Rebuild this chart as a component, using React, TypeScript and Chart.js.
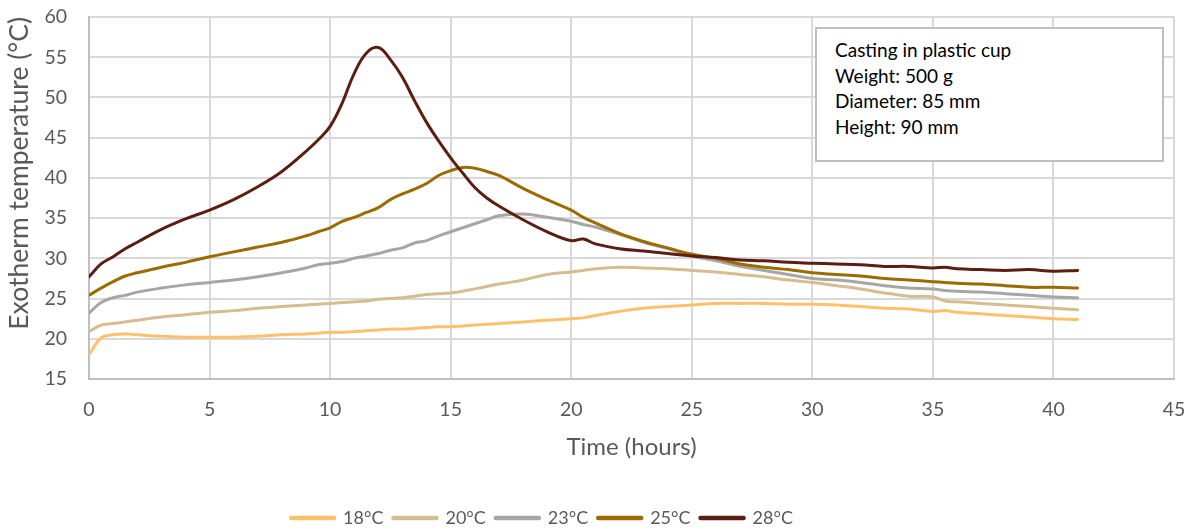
import React, { useEffect, useRef } from 'react';
import { Chart, registerables } from 'chart.js';

Chart.register(...registerables);

const times = [0, 0.5, 1, 1.5, 2, 3, 4, 5, 6, 7, 8, 9, 9.5, 10, 10.5, 11, 11.5, 12, 12.5, 13, 13.5, 14, 14.5, 15, 15.5, 16, 16.5, 17, 18, 19, 20, 20.5, 21, 22, 23, 24, 25, 26, 27, 28, 29, 30, 31, 32, 33, 34, 35, 35.5, 36, 37, 38, 39, 40, 41];

const temp18 = [18.0, 20.1, 20.5, 20.6, 20.5, 20.3, 20.2, 20.2, 20.2, 20.3, 20.5, 20.6, 20.7, 20.8, 20.8, 20.9, 21.0, 21.1, 21.2, 21.2, 21.3, 21.4, 21.5, 21.5, 21.6, 21.7, 21.8, 21.9, 22.1, 22.3, 22.5, 22.6, 22.9, 23.4, 23.8, 24.0, 24.2, 24.4, 24.4, 24.4, 24.3, 24.3, 24.2, 24.0, 23.8, 23.7, 23.4, 23.5, 23.3, 23.1, 22.9, 22.7, 22.5, 22.4];
const temp20 = [20.9, 21.7, 21.9, 22.1, 22.3, 22.7, 23.0, 23.3, 23.5, 23.8, 24.0, 24.2, 24.3, 24.4, 24.5, 24.6, 24.7, 24.9, 25.0, 25.1, 25.3, 25.5, 25.6, 25.7, 25.9, 26.2, 26.5, 26.8, 27.3, 28.0, 28.3, 28.5, 28.7, 28.9, 28.8, 28.7, 28.5, 28.3, 28.0, 27.7, 27.3, 27.0, 26.6, 26.2, 25.7, 25.3, 25.2, 24.7, 24.6, 24.4, 24.2, 24.0, 23.8, 23.6];
const temp23 = [23.2, 24.5, 25.1, 25.4, 25.8, 26.3, 26.7, 27.0, 27.3, 27.7, 28.2, 28.8, 29.2, 29.4, 29.6, 30.0, 30.3, 30.6, 31.0, 31.3, 31.9, 32.2, 32.8, 33.3, 33.8, 34.3, 34.8, 35.3, 35.5, 35.1, 34.6, 34.2, 33.9, 33.0, 32.0, 31.2, 30.3, 29.7, 29.0, 28.5, 28.0, 27.5, 27.3, 27.0, 26.6, 26.3, 26.2, 26.0, 25.9, 25.8, 25.6, 25.4, 25.2, 25.1];
const temp25 = [25.4, 26.3, 27.1, 27.8, 28.2, 28.9, 29.5, 30.2, 30.8, 31.4, 32.0, 32.8, 33.3, 33.8, 34.6, 35.1, 35.7, 36.3, 37.3, 38.0, 38.6, 39.3, 40.3, 40.9, 41.3, 41.2, 40.8, 40.3, 38.7, 37.3, 36.0, 35.1, 34.4, 33.1, 32.1, 31.3, 30.5, 30.0, 29.3, 28.9, 28.6, 28.2, 28.0, 27.8, 27.5, 27.3, 27.1, 27.0, 26.9, 26.8, 26.6, 26.4, 26.4, 26.3];
const temp28 = [27.7, 29.3, 30.2, 31.2, 32.0, 33.6, 34.9, 36.0, 37.3, 38.9, 40.8, 43.3, 44.7, 46.4, 49.3, 53.0, 55.5, 56.2, 54.7, 52.5, 49.6, 46.9, 44.6, 42.5, 40.6, 38.8, 37.5, 36.5, 34.8, 33.3, 32.2, 32.4, 31.8, 31.2, 30.9, 30.6, 30.3, 30.1, 29.8, 29.7, 29.5, 29.4, 29.3, 29.2, 29.0, 29.0, 28.8, 28.9, 28.7, 28.6, 28.5, 28.6, 28.4, 28.5];

const seriesLabels = ['18°C', '20°C', '23°C', '25°C', '28°C'];
const seriesValues = [temp18, temp20, temp23, temp25, temp28];
const seriesColors = ['#FFC06B', '#D6BC8E', '#A6A6A6', '#9C6B00', '#5C1E12'];

const xTitle = 'Time (hours)';
const yTitle = 'Exotherm temperature (°C)';
const noteLines = ['Casting in plastic cup', 'Weight: 500 g', 'Diameter: 85 mm', 'Height: 90 mm'];

const FONT = 'Lato, "Noto Sans", sans-serif';
const AXIS_TEXT = '#595959';

const legendShift = {
  id: 'legendShift',
  afterLayout(chart: any) {
    const lg = chart.legend;
    if (lg) {
      const dx = -45;
      lg.left += dx;
      lg.right += dx;
    }
  },
};

export default function App() {
  const ref = useRef<HTMLCanvasElement | null>(null);

  useEffect(() => {
    document.body.style.margin = '0';
    const canvas = ref.current;
    if (!canvas) return;
    const datasets = seriesValues.map((vals, i) => ({
      label: seriesLabels[i],
      data: times.map((t, j) => ({ x: t, y: vals[j] })),
      borderColor: seriesColors[i],
      backgroundColor: seriesColors[i],
      borderWidth: 3,
      pointRadius: 0,
      tension: 0.4,
      borderCapStyle: 'round' as const,
      fill: false,
      order: seriesLabels.length - i,
    }));

    const chart = new Chart(canvas, {
      type: 'line',
      data: { datasets },
      plugins: [legendShift],
      options: {
        animation: false,
        responsive: false,
        devicePixelRatio: 1,
        layout: { padding: { left: 0, right: 21, top: 17, bottom: -5 } },
        plugins: {
          tooltip: { enabled: false },
          legend: {
            position: 'bottom',
            labels: {
              font: { family: FONT, size: 18 },
              color: AXIS_TEXT,
              usePointStyle: true,
              pointStyle: 'line',
              pointStyleWidth: 43,
              padding: 10,
              sort: (a: any, b: any) => a.datasetIndex - b.datasetIndex,
              generateLabels: (c: any) =>
                Chart.defaults.plugins.legend.labels.generateLabels(c).map((it: any) => ({
                  ...it,
                  lineWidth: 4.5,
                  lineCap: 'round',
                })),
            },
          },
        },
        scales: {
          x: {
            type: 'linear',
            min: 0,
            max: 45,
            ticks: { stepSize: 5, font: { family: FONT, size: 19.5 }, color: AXIS_TEXT, padding: 19 },
            grid: { color: '#D9D9D9', lineWidth: 2, drawTicks: false },
            border: { color: '#BFBFBF', width: 2 },
            title: {
              display: true,
              text: xTitle,
              font: { family: FONT, size: 24 },
              color: AXIS_TEXT,
              padding: { top: 0, bottom: 37 },
            },
            afterFit: (s: any) => {
              s.height = 120;
              s.paddingLeft = 0;
              s.paddingRight = 0;
            },
          },
          y: {
            min: 15,
            max: 60,
            ticks: { stepSize: 5, font: { family: FONT, size: 19.5 }, color: AXIS_TEXT, padding: 22 },
            grid: { color: '#D9D9D9', lineWidth: 2, drawTicks: false },
            border: { color: '#BFBFBF', width: 2 },
            title: {
              display: true,
              text: yTitle,
              align: 'end',
              font: { family: FONT, size: 26.5 },
              color: AXIS_TEXT,
              padding: { top: 4, bottom: 0 },
            },
            afterFit: (s: any) => {
              s.width = 89;
              s.paddingTop = 0;
              s.paddingBottom = 0;
            },
          },
        },
      },
    });
    return () => chart.destroy();
  }, []);

  return (
    <div style={{ position: 'relative', width: 1195, height: 532, background: '#fff' }}>
      <canvas ref={ref} width={1195} height={532} style={{ width: 1195, height: 532, display: 'block' }} />
      <div
        style={{
          position: 'absolute',
          left: 815,
          top: 27,
          width: 349,
          height: 135,
          boxSizing: 'border-box',
          border: '2px solid #BFBFBF',
          background: '#fff',
          padding: '8px 0 0 18px',
          fontFamily: FONT,
          fontSize: 19,
          lineHeight: '25.6px',
          color: '#000',
        }}
      >
        {noteLines.map((l) => (
          <div key={l}>{l}</div>
        ))}
      </div>
    </div>
  );
}
